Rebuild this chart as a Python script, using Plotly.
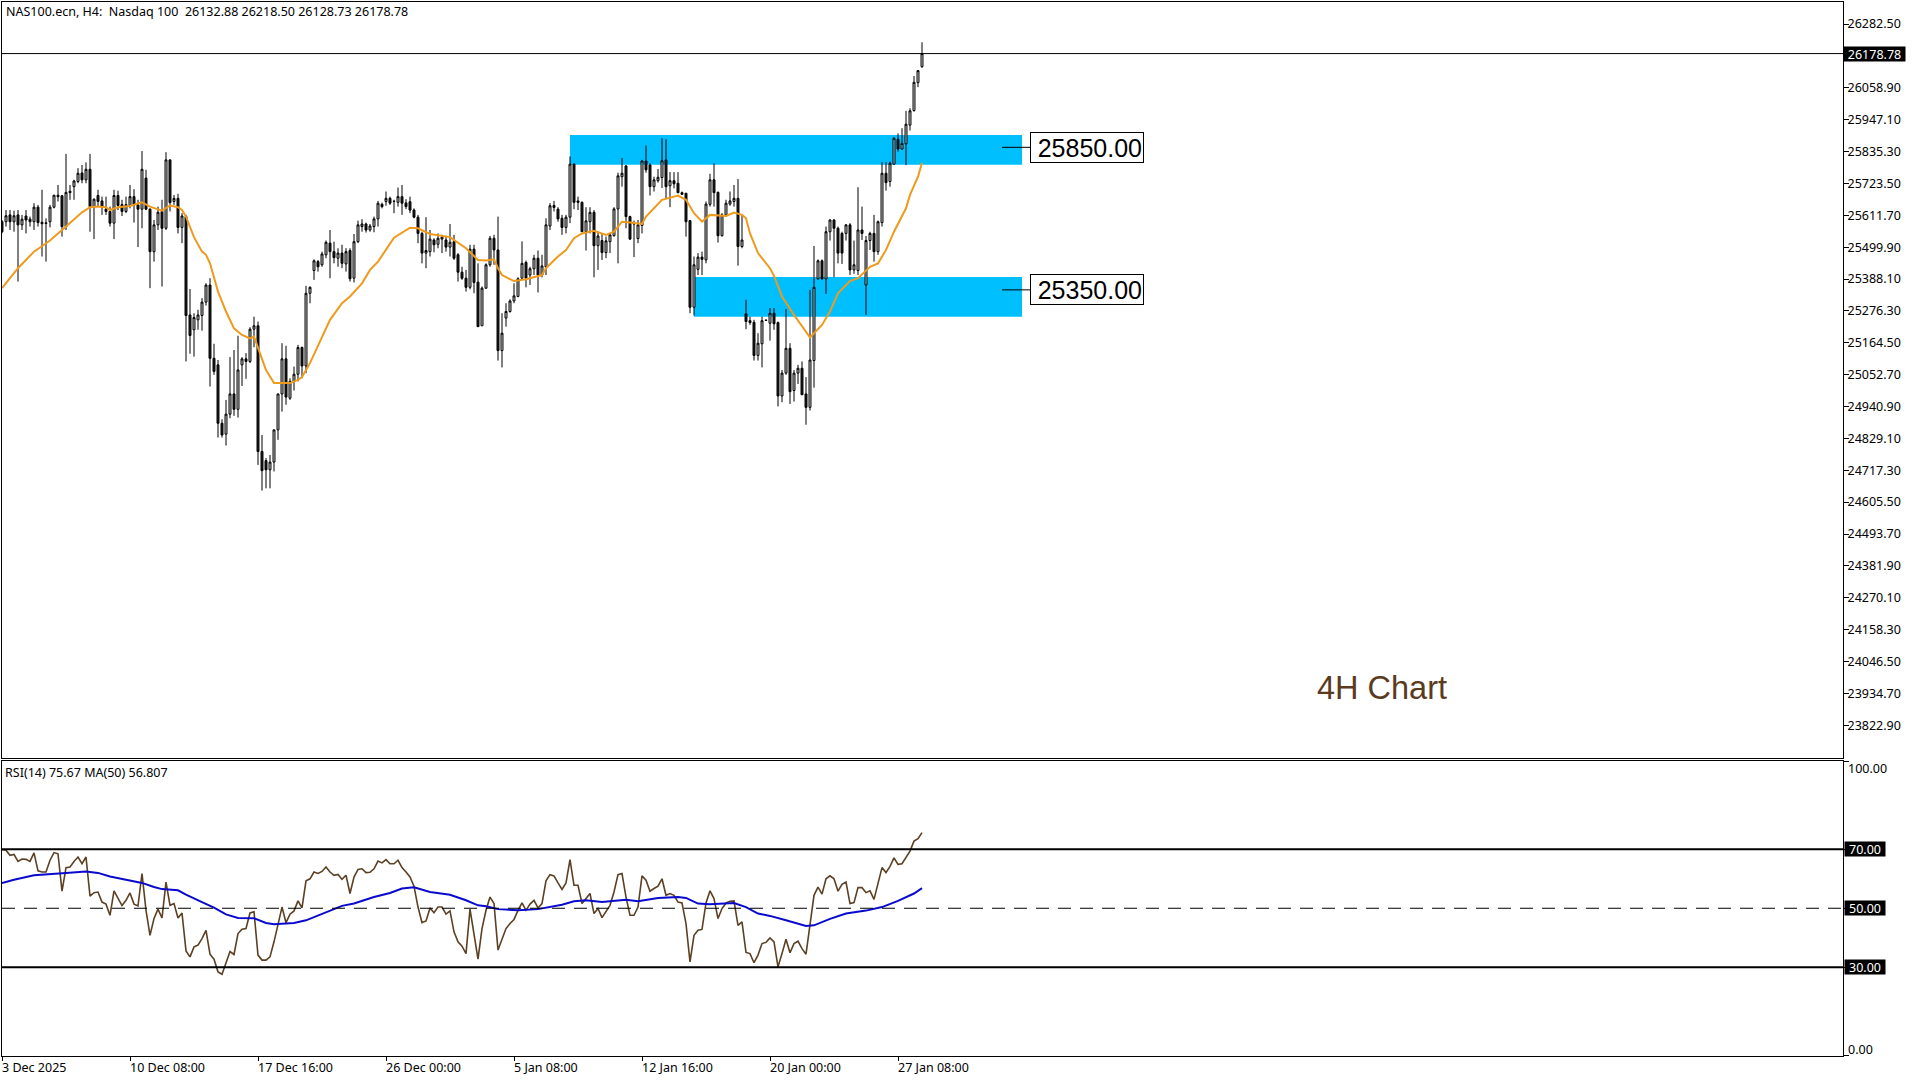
import plotly.graph_objects as go
from plotly.subplots import make_subplots

# --- candles, one entry per H4 bar ---
opens = [25589,25589,25613,25589,25613,25578,25609,25598,25589,25640,
         25587,25585,25589,25640,25682,25680,25572,25696,25712,25730,
         25760,25736,25773,25642,25681,25662,25633,25625,25584,25681,
         25649,25625,25646,25677,25648,25633,25742,25633,25484,25578,
         25625,25566,25806,25660,25671,25569,25607,25262,25210,25245,
         25260,25307,25367,25110,25087,24882,24844,24914,24985,24931,
         25087,25108,25099,25212,25224,24783,24751,24719,24746,24859,
         24985,25108,24970,25029,25054,25148,25083,25338,25418,25449,
         25438,25473,25514,25484,25461,25479,25441,25488,25391,25519,
         25572,25581,25560,25572,25599,25650,25660,25671,25661,25657,
         25677,25655,25659,25630,25605,25548,25479,25484,25525,25510,
         25528,25525,25500,25519,25473,25412,25391,25359,25493,25377,
         25224,25356,25438,25531,25490,25137,25251,25274,25311,25327,
         25391,25446,25402,25424,25461,25402,25431,25574,25646,25633,
         25601,25569,25605,25791,25662,25657,25554,25589,25622,25505,
         25523,25481,25519,25540,25634,25747,25785,25607,25586,25530,
         25576,25802,25788,25712,25733,25744,25806,25715,25733,25724,
         25691,25689,25593,25289,25422,25465,25455,25650,25736,25692,
         25540,25613,25651,25660,25671,25502,25266,25242,25236,25120,
         25161,25244,25233,25268,25235,24978,25058,25145,24997,25058,
         25075,24985,24938,25102,25389,25452,25388,25554,25595,25566,
         25548,25548,25578,25420,25418,25560,25367,25523,25548,25484,
         25586,25759,25730,25791,25878,25844,25862,25928,25979,26077,
         26132.88]
highs = [25595,25630,25630,25628,25630,25613,25630,25607,25654,25648,
         25701,25601,25648,25683,25718,25683,25827,25718,25736,25777,
         25788,25797,25827,25671,25701,25677,25677,25642,25701,25698,
         25666,25677,25718,25703,25666,25837,25771,25636,25595,25642,
         25666,25833,25806,25683,25687,25619,25613,25353,25268,25280,
         25321,25373,25391,25161,25104,24896,24964,25114,25139,25189,
         25114,25128,25219,25256,25239,24841,24760,24771,24859,24985,
         25163,25154,25040,25081,25157,25151,25364,25362,25457,25455,
         25484,25523,25560,25519,25496,25508,25496,25496,25546,25593,
         25598,25586,25581,25607,25662,25656,25695,25677,25666,25709,
         25718,25668,25677,25636,25613,25554,25605,25560,25531,25548,
         25543,25537,25581,25543,25479,25431,25420,25508,25508,25443,
         25362,25443,25539,25543,25607,25268,25303,25317,25373,25394,
         25520,25453,25431,25473,25488,25473,25601,25654,25662,25640,
         25613,25613,25818,25794,25677,25660,25640,25640,25630,25554,
         25548,25537,25548,25640,25761,25812,25785,25610,25593,25595,
         25806,25856,25794,25747,25774,25882,25878,25763,25763,25763,
         25695,25689,25593,25467,25479,25484,25660,25757,25794,25695,
         25619,25666,25695,25718,25739,25613,25315,25256,25245,25198,
         25256,25245,25286,25286,25239,25069,25283,25163,25069,25087,
         25099,25044,25350,25504,25457,25457,25572,25598,25598,25572,
         25554,25581,25584,25523,25710,25642,25539,25554,25613,25593,
         25798,25798,25800,25885,25899,25917,25978,25987,26100,26121,
         26218.50]
lows = [25549,25572,25560,25554,25379,25560,25548,25572,25560,25572,
        25467,25449,25569,25636,25660,25537,25560,25666,25666,25724,
        25724,25724,25554,25528,25642,25613,25613,25572,25528,25630,
        25609,25619,25636,25586,25500,25566,25630,25356,25449,25560,
        25362,25560,25625,25648,25548,25514,25099,25126,25116,25210,
        25207,25295,25011,25052,24832,24832,24804,24900,24908,24902,
        25013,25038,25093,25149,24736,24646,24654,24654,24713,24824,
        24923,24947,24964,24997,25029,25040,25058,25303,25385,25414,
        25431,25461,25391,25443,25431,25426,25414,25379,25376,25514,
        25554,25551,25554,25552,25572,25636,25645,25648,25619,25642,
        25613,25633,25619,25601,25514,25443,25426,25467,25482,25496,
        25479,25484,25467,25455,25379,25385,25344,25352,25338,25221,
        25224,25353,25431,25438,25102,25078,25221,25270,25303,25324,
        25385,25359,25367,25402,25341,25394,25402,25560,25625,25589,
        25543,25548,25584,25633,25630,25554,25488,25548,25394,25420,
        25455,25461,25479,25537,25443,25712,25566,25525,25465,25514,
        25548,25761,25681,25695,25726,25707,25671,25640,25706,25689,
        25683,25537,25268,25260,25402,25402,25443,25642,25642,25516,
        25537,25607,25645,25642,25435,25496,25212,25227,25102,25102,
        25078,25243,25172,25210,24941,24956,25052,24950,24958,25020,
        24982,24877,24927,25007,25385,25385,25336,25523,25394,25443,
        25441,25523,25402,25406,25402,25525,25262,25490,25449,25473,
        25572,25698,25712,25788,25835,25841,25788,25909,25975,26061,
        26128.73]
closes = [25554,25610,25589,25610,25578,25598,25595,25589,25640,25586,
          25582,25583,25640,25682,25677,25572,25692,25691,25732,25759,
          25736,25773,25642,25668,25660,25642,25625,25584,25681,25646,
          25625,25649,25677,25648,25633,25773,25633,25484,25578,25622,
          25566,25806,25656,25671,25569,25609,25260,25190,25253,25262,
          25307,25367,25110,25064,24882,24841,24914,24985,24931,25069,
          25108,25099,25212,25224,24783,24716,24719,24746,24859,24985,
          25108,24974,25029,25054,25148,25083,25338,25359,25452,25431,
          25476,25517,25484,25463,25479,25443,25484,25389,25519,25578,
          25581,25560,25574,25599,25654,25642,25671,25654,25660,25677,
          25654,25642,25630,25605,25548,25479,25488,25528,25508,25531,
          25535,25500,25517,25461,25412,25391,25359,25493,25376,25221,
          25356,25438,25531,25490,25137,25198,25274,25311,25329,25389,
          25443,25391,25424,25461,25402,25434,25578,25645,25639,25599,
          25569,25605,25791,25657,25657,25554,25592,25622,25505,25539,
          25481,25522,25543,25634,25750,25759,25607,25528,25581,25578,
          25802,25771,25712,25736,25745,25803,25712,25733,25722,25691,
          25685,25589,25289,25438,25465,25457,25651,25736,25691,25540,
          25613,25654,25662,25671,25502,25525,25239,25235,25120,25163,
          25242,25243,25268,25231,24978,25058,25145,24993,25058,25075,
          24982,24938,25104,25359,25452,25389,25554,25595,25566,25479,
          25479,25578,25420,25438,25560,25548,25523,25548,25484,25589,
          25759,25726,25794,25882,25844,25864,25931,25978,26078,26119,
          26178.78]

# --- orange moving average on price: bar index and value at each bend ---
ma_bars = [0,4,8,12,16,20,22,24,26,27,29,32,35,37,40,42,44,45,46,48,50,51,52,54,56,58,60,62,63,64,
           66,68,70,72,74,75,77,80,82,85,87,90,92,94,98,102,104,107,112,116,119,121,123,124,125,128,
           131,135,136,139,141,143,145,148,151,153,155,157,160,161,165,169,171,173,175,177,181,183,
           185,186,187,189,192,193,195,198,200,202,205,207,209,212,214,217,219,221,223,226,227,229,230]
ma_values = [25356,25426,25484,25523,25572,25622,25640,25642,25640,25630,25640,25644,25657,25642,25628,
             25646,25640,25630,25607,25535,25484,25473,25443,25344,25274,25215,25192,25180,25186,25145,
             25069,25023,25023,25023,25034,25044,25093,25186,25245,25303,25327,25373,25420,25449,25533,
             25568,25566,25546,25535,25496,25455,25453,25457,25426,25402,25381,25387,25402,25426,25467,
             25490,25531,25548,25557,25543,25554,25589,25586,25581,25607,25666,25681,25666,25619,25589,
             25613,25609,25621,25613,25601,25548,25479,25426,25399,25327,25262,25221,25183,25227,25274,
             25338,25381,25391,25431,25443,25490,25554,25636,25683,25747,25796]

# --- RSI(14), one value per bar ---
rsi_values = [69.9,69.7,68.0,68.3,65.9,66.7,66.6,65.9,68.8,62.7,
              62.3,62.3,66.3,68.9,68.5,55.8,63.8,64.0,65.9,67.4,
              65.1,67.4,54.1,55.3,55.5,52.1,51.4,47.6,55.9,53.3,
              50.9,52.7,55.2,51.4,50.8,61.8,49.3,40.8,46.5,49.7,
              46.7,58.9,51.0,51.6,46.7,48.4,35.5,33.5,36.9,37.5,
              39.7,42.5,34.4,32.7,28.4,27.6,31.2,35.3,34.3,41.4,
              42.9,43.1,48.4,48.8,34.1,32.4,32.4,33.5,38.6,44.8,
              50.4,45.1,48.0,49.1,52.5,50.1,59.3,60.0,62.3,61.8,
              62.5,64.0,62.3,61.2,61.5,59.8,61.2,55.0,60.6,63.2,
              63.4,62.1,62.2,63.4,66.0,65.4,66.5,65.1,65.1,66.3,
              63.8,62.3,60.6,57.5,50.4,45.1,45.7,50.1,48.5,50.4,
              50.4,48.0,49.1,42.0,38.6,37.1,34.6,49.7,41.4,32.7,
              43.1,49.3,53.8,51.6,35.8,39.2,43.1,44.8,46.2,49.3,
              51.8,49.3,51.4,52.7,50.1,51.6,59.3,61.4,61.0,58.6,
              56.4,58.6,66.5,57.8,57.8,51.6,53.3,55.0,48.2,49.9,
              46.8,49.1,51.0,55.5,61.4,61.8,53.8,47.6,47.6,50.4,
              61.0,59.5,55.8,56.7,57.5,60.0,54.4,55.0,54.4,52.1,
              51.8,44.8,31.8,40.8,42.5,42.8,51.8,55.9,53.3,46.5,
              49.9,51.8,52.4,52.5,44.2,45.4,35.0,34.6,31.5,34.1,
              38.0,38.4,39.9,38.6,30.1,34.6,39.5,34.9,38.0,38.8,
              36.3,34.4,44.8,54.4,57.2,54.8,60.0,61.0,60.0,55.8,
              58.1,58.9,51.6,51.9,57.0,57.0,55.3,55.9,53.0,58.4,
              63.8,62.1,64.2,67.1,64.9,65.1,67.4,69.4,72.8,73.6,
              75.67]

# --- MA(50) of the RSI, bends only ---
rsi_ma_bars = [0,3,8,12,16,21,24,27,32,35,38,40,44,46,50,53,56,59,63,66,68,73,76,80,85,88,93,97,100,103,
               107,112,116,119,121,124,129,134,137,140,143,146,150,154,156,159,164,169,171,174,177,183,
               186,189,192,196,201,203,207,211,216,220,224,228,230]
rsi_ma_values = [58.6,59.7,61.2,61.5,62.0,62.5,62.0,60.8,59.5,58.6,57.2,56.5,56.1,54.6,52.1,50.2,47.9,46.7,
                 46.6,45.0,44.6,45.0,45.9,48.2,50.8,51.6,53.8,55.2,56.7,57.1,55.5,54.6,52.7,51.0,50.7,49.7,
                 49.3,49.7,50.4,51.2,52.4,52.7,52.1,52.5,52.9,52.4,53.5,53.8,53.5,51.6,51.4,51.8,50.4,48.2,
                 47.4,45.9,44.0,44.2,46.4,48.2,49.2,50.4,52.5,55.0,56.807]

# --- axes ---
price_ticks = [26282.50,26170.70,26058.90,25947.10,25835.30,25723.50,25611.70,25499.90,25388.10,25276.30,
               25164.50,25052.70,24940.90,24829.10,24717.30,24605.50,24493.70,24381.90,24270.10,24158.30,
               24046.50,23934.70,23822.90]
time_bars = [0,32,64,96,128,160,192,224]
time_labels = ["3 Dec 2025","10 Dec 08:00","17 Dec 16:00","26 Dec 00:00",
               "5 Jan 08:00","12 Jan 16:00","20 Jan 00:00","27 Jan 08:00"]
rsi_ticks = [100,70,50,30,0]
last_price = 26178.78

# zones: (first bar, last bar, top, bottom), level labels
zones = [(142,255,25893,25789),(173,255,25395,25256)]
levels = [25850.00,25350.00]

FONT = "Noto Sans"
W, H = 1920, 1080

fig = make_subplots(rows=2, cols=1, shared_xaxes=True)

bars = list(range(len(opens)))
fig.add_trace(go.Candlestick(
    x=bars, open=opens, high=highs, low=lows, close=closes,
    increasing=dict(line=dict(color="#000000", width=1), fillcolor="#cfcfcf"),
    decreasing=dict(line=dict(color="#000000", width=1), fillcolor="#1c1c1c"),
    whiskerwidth=0, showlegend=False, hoverinfo="skip"), row=1, col=1)
fig.add_trace(go.Scatter(x=ma_bars, y=ma_values, mode="lines",
                         line=dict(color="#EE9A1D", width=2), showlegend=False), row=1, col=1)
fig.add_trace(go.Scatter(x=bars, y=rsi_values, mode="lines",
                         line=dict(color="#5C4024", width=1.6), showlegend=False), row=2, col=1)
fig.add_trace(go.Scatter(x=rsi_ma_bars, y=rsi_ma_values, mode="lines",
                         line=dict(color="#0A0ACD", width=2), showlegend=False), row=2, col=1)

# supply / demand zones and their leader lines
for x0, x1, top, bottom in zones:
    fig.add_shape(type="rect", x0=x0, x1=x1, y0=bottom, y1=top, xref="x", yref="y",
                  fillcolor="#00BFFF", line_width=0, layer="below")
for lvl in levels:
    fig.add_shape(type="line", x0=250, x1=257, y0=lvl, y1=lvl, xref="x", yref="y",
                  line=dict(color="#000000", width=1))
    fig.add_annotation(x=257, y=lvl, xref="x", yref="y", xanchor="left", yanchor="middle",
                       text=f"{lvl:.2f}", showarrow=False, bgcolor="#ffffff", align="right",
                       bordercolor="#000000", borderwidth=1, borderpad=1, width=110, height=27,
                       font=dict(family="Liberation Sans", size=25, color="#000000"))

# last price line and RSI levels
fig.add_shape(type="line", x0=0, x1=1, y0=last_price, y1=last_price, xref="x domain", yref="y",
              line=dict(color="#000000", width=1))
fig.add_shape(type="line", x0=0, x1=1, y0=70, y1=70, xref="x2 domain", yref="y2",
              line=dict(color="#000000", width=2))
fig.add_shape(type="line", x0=0, x1=1, y0=30, y1=30, xref="x2 domain", yref="y2",
              line=dict(color="#000000", width=2))
fig.add_shape(type="line", x0=0, x1=1, y0=50, y1=50, xref="x2 domain", yref="y2",
              line=dict(color="#000000", width=1, dash="13px,9px"))

fig.update_layout(
    width=W, height=H, margin=dict(l=0, r=0, t=0, b=0),
    paper_bgcolor="#ffffff", plot_bgcolor="#ffffff", showlegend=False,
    font=dict(family=FONT, size=12.5, color="#000000"),
    xaxis=dict(domain=[2/W, 1843/W], range=[0, 460.25], showgrid=False, zeroline=False,
               showline=True, mirror=True, linecolor="#000000", linewidth=1,
               showticklabels=False, ticks="", rangeslider=dict(visible=False)),
    xaxis2=dict(domain=[2/W, 1843/W], range=[0, 460.25], showgrid=False, zeroline=False,
                showline=True, mirror=True, linecolor="#000000", linewidth=1,
                tickvals=time_bars, ticktext=[""]*len(time_bars), ticks="outside", ticklen=4,
                tickcolor="#000000", matches="x"),
    yaxis=dict(domain=[1-758/H, 1-2/H], range=[23708, 26359.7], side="right", showgrid=False,
               zeroline=False, showline=True, mirror=True, linecolor="#000000", linewidth=1,
               tickvals=price_ticks,
               ticktext=["" if p == 26170.70 else f"{p:.2f}" for p in price_ticks],
               ticks="outside", ticklen=5, tickcolor="#000000", ticklabelstandoff=-4,
               tickfont=dict(family=FONT, size=12.5)),
    yaxis2=dict(domain=[1-1055.5/H, 1-761/H], range=[0, 100], side="right", showgrid=False,
                zeroline=False, showline=True, mirror=True, linecolor="#000000", linewidth=1,
                tickvals=rsi_ticks, ticktext=[""]*len(rsi_ticks), ticks="outside", ticklen=5,
                tickcolor="#000000"),
)

# header texts
fig.add_annotation(x=4/W, y=1-11.5/H, xref="paper", yref="paper", xanchor="left", yanchor="middle",
                   showarrow=False, text="NAS100.ecn, H4:  Nasdaq 100  26132.88 26218.50 26128.73 26178.78",
                   font=dict(family=FONT, size=12.5))
fig.add_annotation(x=3/W, y=1-772/H, xref="paper", yref="paper", xanchor="left", yanchor="middle",
                   showarrow=False, text="RSI(14) 75.67 MA(50) 56.807", font=dict(family=FONT, size=12.5))
fig.add_annotation(x=1315/W, y=1-688/H, xref="paper", yref="paper", xanchor="left", yanchor="middle",
                   showarrow=False, text="4H Chart",
                   font=dict(family="Liberation Sans", size=32.5, color="#5B3A1E"))

# price tag of the last close
fig.add_annotation(x=1, y=last_price, xref="x domain", yref="y", xanchor="left", yanchor="middle",
                   xshift=0, showarrow=False, text=f"{last_price:.2f}", bgcolor="#000000", borderpad=0,
                   width=61, height=14, font=dict(family=FONT, size=12.5, color="#ffffff"))

# RSI axis texts
for val in rsi_ticks:
    if val in (70, 50, 30):
        fig.add_annotation(x=1, y=val, xref="x2 domain", yref="y2", xanchor="left", yanchor="middle",
                           xshift=1, showarrow=False, text=f"{val:.2f}", bgcolor="#000000", borderpad=0,
                           width=40, height=14, font=dict(family=FONT, size=12.5, color="#ffffff"))
    else:
        fig.add_annotation(x=1, y=val, xref="x2 domain", yref="y2", xanchor="left", yanchor="middle",
                           xshift=3, yshift=-7 if val == 100 else 6, showarrow=False, text=f"{val:.2f}",
                           font=dict(family=FONT, size=12.5))

# time labels start at their tick, like MT5
for bar, label in zip(time_bars, time_labels):
    fig.add_annotation(x=bar, y=1-1067/H, xref="x2", yref="paper", xanchor="left", yanchor="middle",
                       xshift=-2, showarrow=False, text=label, font=dict(family=FONT, size=12.5))

fig.write_html("out.html", config={"displayModeBar": False},
               post_script="document.body.style.margin='0';document.body.style.overflow='hidden';")
